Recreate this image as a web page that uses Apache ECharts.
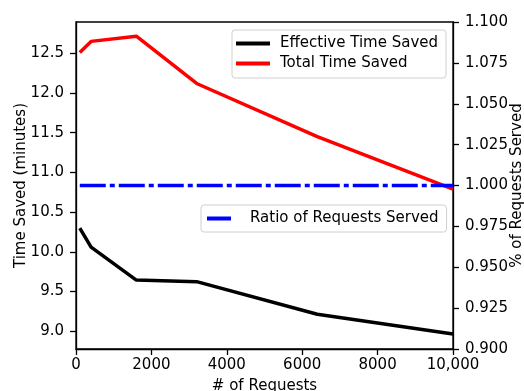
<!DOCTYPE html>
<html>
<head>
<meta charset="utf-8">
<script src="https://cdn.jsdelivr.net/npm/echarts@6/dist/echarts.min.js"></script>
<style>
  html, body { margin: 0; padding: 0; background: #fff; }
  #chart { width: 524px; height: 391px; }
</style>
</head>
<body>
<div id="chart"></div>
<script>
// Number of requests at each measurement
const requests = [100, 400, 1600, 3200, 6400, 10000];
// Time saved in minutes
const effectiveTimeSaved = [10.30, 10.06, 9.645, 9.625, 9.215, 8.965];
const totalTimeSaved = [12.51, 12.65, 12.715, 12.12, 11.45, 10.79];
// Share of requests served
const ratioServed = [1.0, 1.0, 1.0, 1.0, 1.0, 1.0];
// Tick labels
const xTicks = [0, 2000, 4000, 6000, 8000, 10000];
const leftTicks = [9.0, 9.5, 10.0, 10.5, 11.0, 11.5, 12.0, 12.5];

const FONT = 'DejaVu Sans';
const SIZE = 15;
const pairs = (ys) => requests.map((x, i) => [x, ys[i]]);

const chart = echarts.init(document.getElementById('chart'), null, { renderer: 'canvas' });

const axisCommon = {
  axisLine: { show: true, lineStyle: { color: '#000', width: 1.3 } },
  axisTick: { show: true, inside: false, length: 6, lineStyle: { color: '#000', width: 1.3 } },
  splitLine: { show: false },
  nameMoveOverlap: false,
  axisLabel: { color: '#000', fontFamily: FONT, fontSize: SIZE },
  nameTextStyle: { color: '#000', fontFamily: FONT, fontSize: SIZE }
};

chart.setOption({
  animation: false,
  backgroundColor: '#fff',
  grid: {
    left: 76, right: 71, top: 22, bottom: 42,
    outerBoundsMode: 'none', containLabel: false,
    show: true, borderColor: '#000', borderWidth: 1.3, backgroundColor: 'transparent'
  },
  xAxis: {
    type: 'value', min: 0, max: 10000, interval: 2000,
    name: '# of Requests', nameLocation: 'middle', nameGap: 30,
    ...axisCommon,
    axisLabel: { ...axisCommon.axisLabel, margin: 9,
      customValues: xTicks,
      formatter: (v) => v === 10000 ? '10,000' : String(v) }
  },
  yAxis: [
    {
      type: 'value', min: 8.777, max: 12.894, position: 'left',
      name: 'Time Saved (minutes)', nameLocation: 'middle', nameGap: 47, nameRotate: 90,
      ...axisCommon,
      axisTick: { ...axisCommon.axisTick, customValues: leftTicks },
      axisLabel: { ...axisCommon.axisLabel, margin: 12, customValues: leftTicks,
        formatter: (v) => v.toFixed(1) }
    },
    {
      type: 'value', min: 0.9, max: 1.1, interval: 0.025, position: 'right',
      name: '% of Requests Served', nameLocation: 'middle', nameGap: 57, nameRotate: 90,
      ...axisCommon,
      axisLabel: { ...axisCommon.axisLabel, margin: 12, formatter: (v) => v.toFixed(3) }
    }
  ],
  legend: [
    {
      data: ['Effective Time Saved', 'Total Time Saved'],
      orient: 'vertical', left: 232, top: 30,
      icon: 'rect', itemWidth: 34, itemHeight: 4, itemGap: 5,
      padding: [6, 8, 7, 4],
      borderColor: '#d0d0d0', borderWidth: 1, borderRadius: 3,
      backgroundColor: 'rgba(255,255,255,0.85)',
      textStyle: { color: '#000', fontFamily: FONT, fontSize: SIZE, padding: [0, 0, 0, 5] }
    },
    {
      data: ['Ratio of Requests Served'],
      orient: 'vertical', left: 201, top: 205,
      icon: 'rect', itemWidth: 24, itemHeight: 4,
      padding: [6, 8, 6, 6],
      borderColor: '#d0d0d0', borderWidth: 1, borderRadius: 3,
      backgroundColor: 'rgba(255,255,255,0.85)',
      textStyle: { color: '#000', fontFamily: FONT, fontSize: SIZE, padding: [0, 0, 0, 14] }
    }
  ],
  series: [
    {
      name: 'Effective Time Saved', type: 'line', yAxisIndex: 0,
      data: pairs(effectiveTimeSaved), symbol: 'none',
      itemStyle: { color: '#000' },
      lineStyle: { color: '#000', width: 3.5 }
    },
    {
      name: 'Total Time Saved', type: 'line', yAxisIndex: 0,
      data: pairs(totalTimeSaved), symbol: 'none',
      itemStyle: { color: '#ff0000' },
      lineStyle: { color: '#ff0000', width: 3.5 }
    },
    {
      name: 'Ratio of Requests Served', type: 'line', yAxisIndex: 1,
      data: pairs(ratioServed), symbol: 'none',
      itemStyle: { color: '#0000ff' },
      lineStyle: { color: '#0000ff', width: 3.5, type: [26, 4, 5, 4] }
    }
  ]
});
</script>
</body>
</html>
